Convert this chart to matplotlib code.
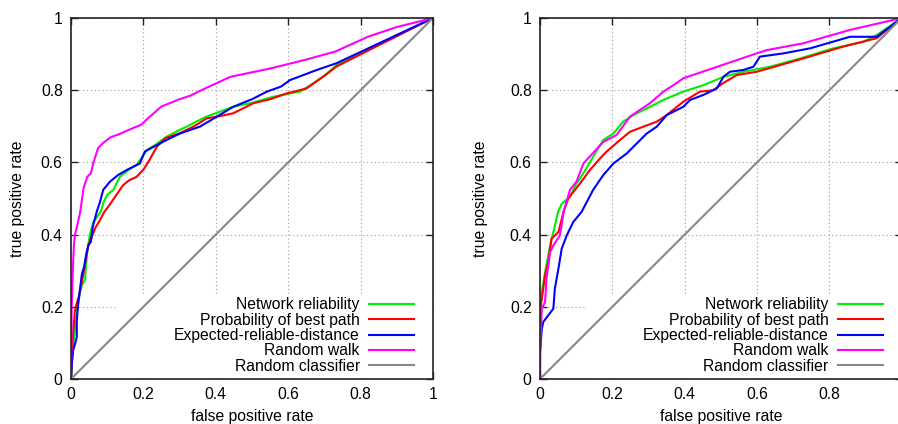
#!/usr/bin/env python3
"""Two ROC panels comparing link-prediction scores (gnuplot look)."""

import matplotlib

matplotlib.use("Agg")
import matplotlib.pyplot as plt  # noqa: E402
from matplotlib.patches import Rectangle  # noqa: E402

plt.rcParams["font.family"] = ["Liberation Sans", "DejaVu Sans"]

LABELS = [
    "Network reliability",
    "Probability of best path",
    "Expected-reliable-distance",
    "Random walk",
    "Random classifier",
]
COLORS = ["#00ee00", "#ff0000", "#0000ff", "#ff00ff", "#888888"]
TICKS = [0, 0.2, 0.4, 0.6, 0.8, 1]
TICK_LABELS = ["0", "0.2", "0.4", "0.6", "0.8", "1"]

# left panel
left_nr_fpr = [0, 0.003, 0.007, 0.012, 0.018, 0.025, 0.03, 0.039, 0.041, 0.046, 0.052, 0.062,
               0.082, 0.09, 0.1, 0.117, 0.135, 0.16, 0.181, 0.2, 0.209, 0.235, 0.264, 0.3,
               0.32, 0.35, 0.375, 0.41, 0.448, 0.5, 0.559, 0.6, 0.633, 0.669, 0.7, 0.734, 1]
left_nr_tpr = [0, 0.05, 0.1, 0.15, 0.2, 0.24, 0.26, 0.275, 0.31, 0.36, 0.4, 0.435,
               0.463, 0.49, 0.51, 0.524, 0.56, 0.58, 0.593, 0.62, 0.634, 0.65, 0.671, 0.69,
               0.699, 0.715, 0.727, 0.74, 0.754, 0.765, 0.782, 0.79, 0.796, 0.819, 0.84, 0.87, 1]

left_pb_fpr = [0, 0.003, 0.006, 0.011, 0.016, 0.022, 0.03, 0.036, 0.042, 0.048, 0.055, 0.06,
               0.068, 0.08, 0.092, 0.105, 0.122, 0.144, 0.16, 0.181, 0.2, 0.214, 0.237, 0.26,
               0.301, 0.34, 0.375, 0.41, 0.448, 0.504, 0.55, 0.596, 0.651, 0.7, 0.734, 1]
left_pb_tpr = [0, 0.08, 0.13, 0.19, 0.21, 0.23, 0.27, 0.3, 0.34, 0.37, 0.39, 0.4,
               0.42, 0.44, 0.463, 0.48, 0.505, 0.537, 0.55, 0.56, 0.58, 0.602, 0.643, 0.667,
               0.681, 0.7, 0.722, 0.728, 0.736, 0.764, 0.775, 0.791, 0.805, 0.84, 0.866, 1]

left_erd_fpr = [0, 0.003, 0.006, 0.012, 0.016, 0.016, 0.02, 0.025, 0.03, 0.036, 0.042, 0.048,
                0.055, 0.06, 0.065, 0.071, 0.08, 0.089, 0.108, 0.13, 0.154, 0.19, 0.204, 0.237,
                0.27, 0.301, 0.356, 0.4, 0.448, 0.5, 0.541, 0.58, 0.605, 0.679, 0.734, 1]
left_erd_tpr = [0, 0.05, 0.08, 0.1, 0.117, 0.16, 0.21, 0.25, 0.29, 0.31, 0.345, 0.371,
                0.38, 0.42, 0.44, 0.463, 0.49, 0.524, 0.547, 0.565, 0.579, 0.597, 0.63, 0.648,
                0.665, 0.68, 0.699, 0.725, 0.754, 0.775, 0.796, 0.81, 0.828, 0.856, 0.875, 1]

left_rw_fpr = [0, 0.002, 0.005, 0.008, 0.011, 0.016, 0.025, 0.035, 0.045, 0.055, 0.062, 0.075,
               0.09, 0.11, 0.13, 0.155, 0.195, 0.21, 0.25, 0.3, 0.33, 0.36, 0.44, 0.55,
               0.65, 0.73, 0.82, 0.9, 1]
left_rw_tpr = [0, 0.2, 0.3, 0.37, 0.4, 0.42, 0.46, 0.53, 0.56, 0.57, 0.6, 0.64,
               0.655, 0.67, 0.677, 0.688, 0.705, 0.72, 0.755, 0.775, 0.785, 0.8, 0.837, 0.86,
               0.885, 0.907, 0.948, 0.975, 1]

# right panel
right_nr_fpr = [0, 0.001, 0.002, 0.005, 0.014, 0.028, 0.04, 0.05, 0.06, 0.083, 0.1, 0.12,
                0.147, 0.175, 0.203, 0.23, 0.258, 0.304, 0.341, 0.396, 0.452, 0.507, 0.562,
                0.636, 0.719, 0.811, 0.894, 0.931, 1]
right_nr_tpr = [0, 0.1, 0.195, 0.241, 0.296, 0.37, 0.42, 0.463, 0.485, 0.505, 0.54, 0.57,
                0.616, 0.662, 0.68, 0.713, 0.731, 0.754, 0.773, 0.796, 0.814, 0.837, 0.851,
                0.865, 0.888, 0.916, 0.934, 0.953, 1]

right_pb_fpr = [0, 0.0, 0.005, 0.014, 0.023, 0.032, 0.051, 0.065, 0.078, 0.111, 0.138, 0.166,
                0.184, 0.221, 0.249, 0.286, 0.323, 0.35, 0.396, 0.442, 0.479, 0.507, 0.544,
                0.599, 0.728, 0.839, 0.931, 1]
right_pb_tpr = [0, 0.19, 0.222, 0.287, 0.324, 0.389, 0.407, 0.463, 0.5, 0.542, 0.579, 0.611,
                0.63, 0.662, 0.685, 0.699, 0.713, 0.731, 0.768, 0.796, 0.8, 0.82, 0.842,
                0.851, 0.888, 0.921, 0.944, 1]

right_erd_fpr = [0, 0.0, 0.005, 0.009, 0.037, 0.041, 0.051, 0.06, 0.074, 0.092, 0.115, 0.147,
                 0.175, 0.203, 0.24, 0.267, 0.295, 0.323, 0.35, 0.396, 0.415, 0.452, 0.489,
                 0.507, 0.525, 0.562, 0.59, 0.608, 0.673, 0.747, 0.857, 0.931, 1]
right_erd_tpr = [0, 0.075, 0.139, 0.158, 0.195, 0.25, 0.306, 0.361, 0.398, 0.435, 0.463, 0.524,
                 0.565, 0.597, 0.625, 0.652, 0.68, 0.699, 0.731, 0.754, 0.773, 0.787, 0.805,
                 0.837, 0.851, 0.856, 0.865, 0.893, 0.902, 0.916, 0.948, 0.948, 1]

right_rw_fpr = [0, 0.0, 0.005, 0.014, 0.018, 0.028, 0.037, 0.055, 0.062, 0.065, 0.083, 0.101,
                0.12, 0.175, 0.212, 0.249, 0.304, 0.341, 0.369, 0.396, 0.599, 0.627, 0.728,
                0.857, 1]
right_rw_tpr = [0, 0.08, 0.195, 0.213, 0.278, 0.352, 0.37, 0.398, 0.44, 0.463, 0.524, 0.547,
                0.597, 0.657, 0.676, 0.727, 0.764, 0.796, 0.814, 0.833, 0.902, 0.911, 0.93,
                0.967, 1]

random_fpr = [0, 1]
random_tpr = [0, 1]

FS = 11.3


def draw_panel(ax, curves, xtick_count, legend_right, label_x):
    ax.set_axisbelow(True)
    ax.grid(True, color="#9a9a9a", linestyle=(0, (1, 2.5)), linewidth=0.8)
    # gnuplot key box blanks the grid behind it
    ax.add_patch(Rectangle((0.13, 0), 0.87, 0.233, transform=ax.transAxes,
                           facecolor="white", edgecolor="none", zorder=1))
    for (fpr, tpr), label, color in zip(curves, LABELS, COLORS):
        ax.plot(fpr, tpr, color=color, linewidth=1.5, label=label, zorder=2)

    ax.set_xlim(0, 1)
    ax.set_ylim(0, 1)
    ax.set_xticks(TICKS[:xtick_count], TICK_LABELS[:xtick_count])
    ax.set_yticks(TICKS, TICK_LABELS)
    ax.tick_params(direction="in", length=5, width=1.0, top=True, right=True,
                   pad=6, labelsize=FS, color="#222222")
    for sp in ax.spines.values():
        sp.set_color("#222222")
        sp.set_linewidth(1.2)

    ax.set_xlabel("false positive rate", fontsize=FS)
    ax.set_ylabel("true positive rate", fontsize=FS)
    ax.xaxis.set_label_coords(0.5, -0.083)
    ax.yaxis.set_label_coords(label_x, 0.5)

    ax.legend(loc="lower right", bbox_to_anchor=(legend_right, 0.014), frameon=False,
              markerfirst=False, fontsize=FS, handlelength=2.85, handletextpad=0.6,
              labelspacing=0.03, borderpad=0, borderaxespad=0)


def main() -> int:
    fig = plt.figure(figsize=(8.98, 4.24), dpi=100)
    ax_l = fig.add_axes([71 / 898, 45 / 424, 362 / 898, 361 / 424])
    # right panel runs past the figure edge, as in the original cropped figure
    ax_r = fig.add_axes([540 / 898, 45 / 424, 361.7 / 898, 361 / 424])

    left = [(left_nr_fpr, left_nr_tpr), (left_pb_fpr, left_pb_tpr),
            (left_erd_fpr, left_erd_tpr), (left_rw_fpr, left_rw_tpr),
            (random_fpr, random_tpr)]
    right = [(right_nr_fpr, right_nr_tpr), (right_pb_fpr, right_pb_tpr),
             (right_erd_fpr, right_erd_tpr), (right_rw_fpr, right_rw_tpr),
             (random_fpr, random_tpr)]

    draw_panel(ax_l, left, 6, 0.9475, -0.127)
    draw_panel(ax_r, right, 5, 0.948, -0.145)

    fig.savefig("out.png", dpi=100)
    plt.close(fig)
    return 0


if __name__ == "__main__":
    raise SystemExit(main())
